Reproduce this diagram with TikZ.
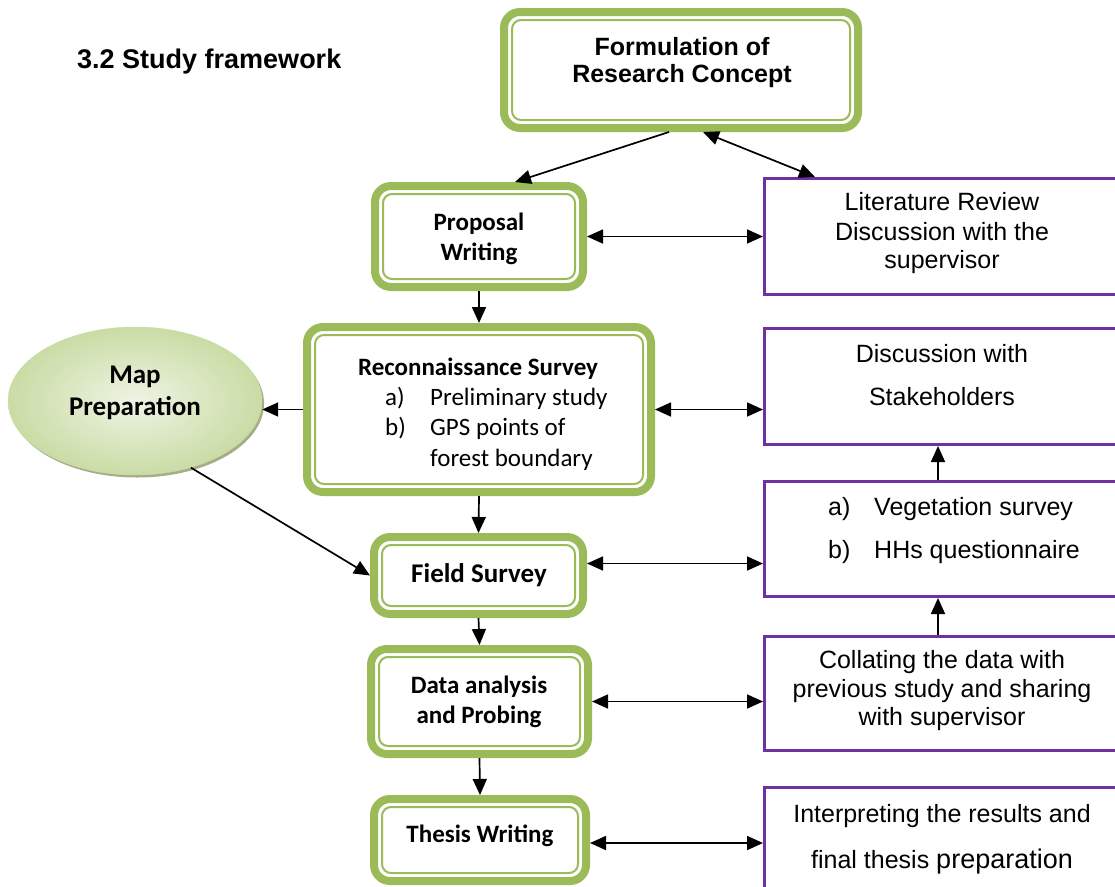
\documentclass[tikz,border=0pt]{standalone}
\usepackage{fontspec}
\setmainfont{Liberation Sans}
\newfontfamily\calibri{Carlito}
\usetikzlibrary{shapes.geometric,arrows.meta}
\definecolor{grn}{RGB}{155,187,89}
\definecolor{pur}{RGB}{112,48,160}
\definecolor{ellin}{RGB}{238,244,228}
\definecolor{ellout}{RGB}{202,220,165}
\definecolor{shad}{RGB}{165,172,135}
\begin{document}
\begin{tikzpicture}[x=1pt,y=-1pt,
  gbox/.style={draw=grn, line width=8pt, rounded corners=16pt, fill=white, inner sep=0pt},
  ginner/.style={draw=grn, line width=2pt, rounded corners=9pt},
  pbox/.style={draw=pur, line width=3pt, fill=white, inner sep=0pt},
  gt/.style={font=\calibri\bfseries\fontsize{25}{30}\selectfont, anchor=base, inner sep=0pt},
  gtb/.style={font=\calibri\bfseries\fontsize{27}{32}\selectfont, anchor=base, inner sep=0pt},
  gl/.style={font=\calibri\fontsize{25}{30}\selectfont, anchor=base west, inner sep=0pt},
  ptxt/.style={font=\fontsize{25}{30}\selectfont, anchor=base, inner sep=0pt},
  pl/.style={font=\fontsize{25}{30}\selectfont, anchor=base west, inner sep=0pt},
  ft/.style={font=\bfseries\fontsize{25}{30}\selectfont, anchor=base, inner sep=0pt},
  tip/.tip={Triangle[length=16pt,width=14pt]},
  arr/.style={line width=1.7pt, -tip},
  darr/.style={line width=1.7pt, tip-tip}
]
\clip (0,0) rectangle (1115,886);

% title
\node[font=\bfseries\fontsize{27}{32}\selectfont, anchor=base west, inner sep=0pt] (title) at (77,68) {3.2 Study framework};

% green boxes
\node[gbox, minimum width=354pt, minimum height=116pt] (form) at (681,70) {};
\node[gbox, minimum width=208pt, minimum height=101pt] (prop) at (479,236.5) {};
\node[gbox, minimum width=344pt, minimum height=165pt] (recon) at (479,409.5) {};
\node[gbox, minimum width=209pt, minimum height=77pt] (field) at (478.5,575.5) {};
\node[gbox, minimum width=217pt, minimum height=105pt] (data) at (479.5,701.5) {};
\node[gbox, minimum width=212pt, minimum height=82pt] (thesis) at (480,840) {};
\foreach \n in {form,prop,recon,field,data,thesis}
  \draw[ginner] ([shift={(12pt,-12pt)}]\n.north west) rectangle ([shift={(-12pt,12pt)}]\n.south east);

% purple boxes
\node[pbox, minimum width=355pt, minimum height=116pt] (lit) at (942,236.5) {};
\node[pbox, minimum width=355pt, minimum height=116pt] (stake) at (942,386.5) {};
\node[pbox, minimum width=355pt, minimum height=115pt] (veg) at (942,539) {};
\node[pbox, minimum width=355pt, minimum height=114pt] (coll) at (942,693.5) {};
\node[pbox, minimum width=355pt, minimum height=117pt] (interp) at (942,846) {};

% ellipse
\fill[shad] (137,403.5) ellipse (127 and 74);
\node[ellipse, minimum width=254pt, minimum height=148pt, inner sep=0pt,
      shading=radial, inner color=ellin, outer color=ellout, draw=ellout] (map) at (135,401) {};

% texts
\node[ft] (t1) at (682,55) {Formulation of};
\node[ft] (t2) at (682,82) {Research Concept};
\node[gt] (t3) at (479,230) {Proposal};
\node[gt] (t4) at (479,260) {Writing};
\node[gt] (t5) at (478,375) {Reconnaissance Survey};
\node[gl] (t6) at (385,405) {a)};
\node[gl] (t7) at (430,405) {Preliminary study};
\node[gl] (t8) at (385,435) {b)};
\node[gl] (t9) at (430,435) {GPS points of};
\node[gl] (t10) at (430,466) {forest boundary};
\node[gtb] (t11) at (135,383) {Map};
\node[gtb] (t12) at (135,415) {Preparation};
\node[gtb] (t13) at (479,582) {Field Survey};
\node[gt] (t14) at (479,693) {Data analysis};
\node[gt] (t15) at (479,723) {and Probing};
\node[gt] (t16) at (480,842) {Thesis Writing};
\node[ptxt] (t17) at (942,210) {Literature Review};
\node[ptxt] (t18) at (942,240) {Discussion with the};
\node[ptxt] (t19) at (942,268) {supervisor};
\node[ptxt] (t20) at (942,362) {Discussion with};
\node[ptxt] (t21) at (942,405) {Stakeholders};
\node[pl] (t22) at (828,515) {a)};
\node[pl] (t23) at (874,515) {Vegetation survey};
\node[pl] (t24) at (828,558) {b)};
\node[pl] (t25) at (874,558) {HHs questionnaire};
\node[ptxt] (t26) at (942,668) {Collating the data with};
\node[ptxt] (t27) at (942,697) {previous study and sharing};
\node[ptxt] (t28) at (942,725) {with supervisor};
\node[ptxt] (t29) at (942,822) {Interpreting the results and};
\node[ptxt] (t30) at (942,868) {final thesis {\fontsize{27}{30}\selectfont preparation}};

% connectors
\draw[arr] ([xshift=-12pt]form.south) -- ([xshift=36pt]prop.north);
\draw[darr] ([xshift=22pt]form.south) -- ([xshift=-127pt]lit.north);
\draw[darr] (prop.east) -- (prop.east -| lit.west);
\draw[arr] (prop.south) -- (recon.north);
\draw[arr] (recon.west) -- (recon.west -| map.east);
\draw[darr] (recon.east) -- (recon.east -| stake.west);
\draw[arr] (recon.south) -- (field.north);
\draw[arr] (map.-50) -- (field.west);
\draw[darr] ([yshift=12pt]field.east) -- ([yshift=12pt]field.east -| veg.west);
\draw[arr] ([xshift=-4pt]veg.north) -- ([xshift=-4pt]stake.south);
\draw[arr] ([xshift=-4pt]coll.north) -- ([xshift=-4pt]veg.south);
\draw[arr] (field.south) -- (data.north);
\draw[darr] (data.east) -- (data.east -| coll.west);
\draw[arr] (data.south) -- (thesis.north);
\draw[darr] ([yshift=-3pt]thesis.east) -- ([yshift=-3pt]thesis.east -| interp.west);
\end{tikzpicture}
\end{document}
